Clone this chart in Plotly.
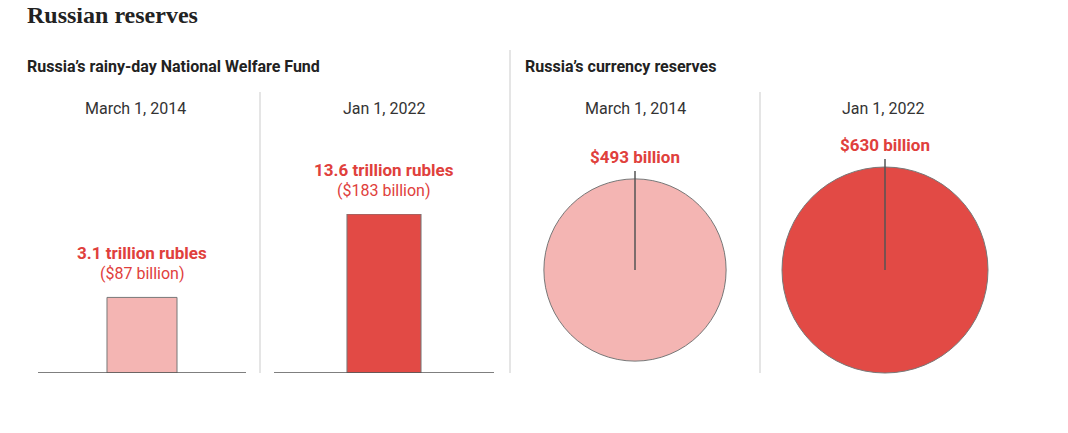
import plotly.graph_objects as go
import math

W, H = 1052, 417
OFF = 8
fund_dates = ["March 1, 2014", "Jan 1, 2022"]
fund_rubles = ["3.1 trillion rubles", "13.6 trillion rubles"]
fund_usd = [87, 183]
res_dates = ["March 1, 2014", "Jan 1, 2022"]
res_usd = [493, 630]

LIGHT, RED, TXT = "#f4b5b3", "#e24a45", "#e0403c"
FONT = "Roboto"

def fx(x): return (x - OFF) / W
def fy(y): return 1 - (y - OFF) / H
def px(x0, x1): return [fx(x0), fx(x1)]
def py(top, bot): return [fy(bot), fy(top)]

fig = go.Figure()
colors = [LIGHT, RED]
bar_x = [(38, 246), (274, 494)]
for i in range(2):
    n = "" if i == 0 else str(i + 1)
    fig.add_trace(go.Bar(x=[0], y=[fund_usd[i]], width=1.01, marker=dict(color=colors[i], line=dict(color="#777", width=1)),
                         xaxis="x" + n, yaxis="y" + n, hoverinfo="skip"))
    fig.update_layout(**{
        "xaxis" + n: dict(domain=px(*bar_x[i]), range=[-1.5, 1.5], visible=False, fixedrange=True),
        "yaxis" + n: dict(domain=py(214, 373), range=[0, 183], visible=False),
    })
    yr = "y" + n if n else "y"
    xr = "x" + n if n else "x"
    fig.add_shape(type="line", xref=xr + " domain", yref=yr,
                  x0=0, x1=1, y0=0, y1=0, line=dict(color="#555", width=1.5))
    fig.add_annotation(x=0, y=fund_usd[i], xref=xr, yref=yr, text="<b>%s</b>" % fund_rubles[i], showarrow=False,
                       yshift=44, font=dict(family=FONT, size=17, color=TXT))
    fig.add_annotation(x=0, y=fund_usd[i], xref=xr, yref=yr, text="($%d billion)" % fund_usd[i], showarrow=False,
                       yshift=24, font=dict(family=FONT, size=16, color=TXT))

circ_x = [(510, 760), (760, 1010)]
for i in range(2):
    n = str(i + 3)
    r = 103 * math.sqrt(res_usd[i] / res_usd[1])
    fig.add_trace(go.Scatter(x=[0], y=[0], mode="markers", marker=dict(size=1, opacity=0),
                             xaxis="x" + n, yaxis="y" + n, hoverinfo="skip"))
    fig.update_layout(**{
        "xaxis" + n: dict(domain=px(*circ_x[i]), range=[-125, 125], visible=False),
        "yaxis" + n: dict(domain=py(140, 400), range=[-130, 130], visible=False),
    })
    fig.add_shape(type="circle", xref="x" + n, yref="y" + n, x0=-r, x1=r, y0=-r, y1=r,
                  fillcolor=colors[i], line=dict(color="#777", width=1))
    fig.add_shape(type="line", xref="x" + n, yref="y" + n, x0=0, x1=0, y0=0, y1=r + 8,
                  line=dict(color="#555", width=1.5))
    fig.add_annotation(x=0, y=r + 8, xref="x" + n, yref="y" + n, text="<b>$%d billion</b>" % res_usd[i],
                       showarrow=False, yshift=14, font=dict(family=FONT, size=17, color=TXT))

for cx, t in zip([135, 384, 635, 883], fund_dates + res_dates):
    fig.add_annotation(x=fx(cx), y=fy(108), xref="paper", yref="paper", xanchor="center", yanchor="middle",
                       text=t, showarrow=False, font=dict(family=FONT, size=16, color="#333"))
for x, top in [(260, 92), (510, 50), (760, 92)]:
    fig.add_shape(type="line", xref="paper", yref="paper", x0=fx(x), x1=fx(x), y0=fy(top), y1=fy(373),
                  line=dict(color="#ddd", width=1.5))

fig.add_annotation(x=fx(25), y=fy(15), xref="paper", yref="paper", xanchor="left", yanchor="middle",
                   text="<b>Russian reserves</b>", showarrow=False,
                   font=dict(family="Liberation Serif", size=24, color="#222"))
fig.add_annotation(x=fx(25), y=fy(66), xref="paper", yref="paper", xanchor="left", yanchor="middle",
                   text="<b>Russia’s rainy-day National Welfare Fund</b>", showarrow=False,
                   font=dict(family=FONT, size=16, color="#222"))
fig.add_annotation(x=fx(523), y=fy(66), xref="paper", yref="paper", xanchor="left", yanchor="middle",
                   text="<b>Russia’s currency reserves</b>", showarrow=False,
                   font=dict(family=FONT, size=16, color="#222"))

fig.update_layout(width=W, height=H, margin=dict(l=0, r=0, t=0, b=0), showlegend=False,
                  plot_bgcolor="white", paper_bgcolor="white")
fig.write_html("out.html")
